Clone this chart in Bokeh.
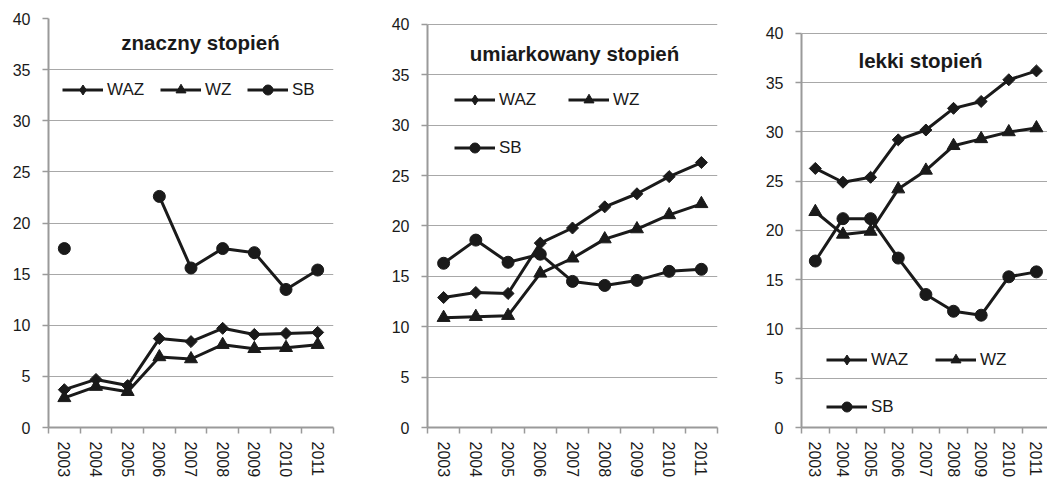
import numpy as np
from bokeh.plotting import figure
from bokeh.layouts import row
from bokeh.models import Range1d, FixedTicker, Legend, LegendItem, Label, ColumnDataSource
from bokeh.embed import file_html
from bokeh.resources import INLINE

nan = float("nan")
years = [2003, 2004, 2005, 2006, 2007, 2008, 2009, 2010, 2011]
y_ticks = [0, 5, 10, 15, 20, 25, 30, 35, 40]
titles = ["znaczny stopień", "umiarkowany  stopień", "lekki  stopień"]

waz_znaczny = [3.7, 4.7, 4.1, 8.7, 8.4, 9.7, 9.1, 9.2, 9.3]
wz_znaczny = [2.9, 4.0, 3.5, 6.9, 6.7, 8.1, 7.7, 7.8, 8.1]
sb_znaczny = [17.5, nan, nan, 22.6, 15.6, 17.5, 17.1, 13.5, 15.4]

waz_umiark = [12.9, 13.4, 13.3, 18.3, 19.8, 21.9, 23.2, 24.9, 26.3]
wz_umiark = [10.9, 11.0, 11.1, 15.3, 16.8, 18.7, 19.7, 21.1, 22.2]
sb_umiark = [16.3, 18.6, 16.4, 17.2, 14.5, 14.1, 14.6, 15.5, 15.7]

waz_lekki = [26.3, 24.9, 25.4, 29.2, 30.2, 32.4, 33.1, 35.3, 36.2]
wz_lekki = [21.9, 19.6, 19.9, 24.2, 26.1, 28.6, 29.3, 30.0, 30.4]
sb_lekki = [16.9, 21.2, 21.2, 17.2, 13.5, 11.8, 11.4, 15.3, 15.8]

FONT = "Liberation Sans"
INK = "#1a1a1a"
GRID = "#a8a8a8"
AXIS = "#9a9a9a"


def make_panel(title, waz, wz, sb, width, bl, br, bb, y_end, x_end,
               title_xy, legend_rows, x_standoff):
    p = figure(width=width, height=480, output_backend="svg", toolbar_location=None,
               title=None,
               x_range=Range1d(2002.5, x_end), y_range=Range1d(0, y_end),
               min_border_left=bl, min_border_right=br, min_border_top=18,
               min_border_bottom=bb, outline_line_color=None,
               background_fill_color="white", border_fill_color="white")
    p.xgrid.visible = False
    p.ygrid.grid_line_color = GRID
    p.ygrid.grid_line_width = 1.2
    p.ygrid.ticker = FixedTicker(ticks=y_ticks)

    p.yaxis.ticker = FixedTicker(ticks=y_ticks)
    p.yaxis.bounds = (0, 40)
    p.yaxis.axis_line_color = AXIS
    p.yaxis.axis_line_width = 2
    p.yaxis.major_tick_line_color = AXIS
    p.yaxis.major_tick_line_width = 1.5
    p.yaxis.major_tick_out = 6
    p.yaxis.major_tick_in = 0
    p.yaxis.minor_tick_line_color = None
    p.yaxis.major_label_standoff = 12
    p.yaxis.axis_label_standoff = 0
    p.yaxis.major_label_text_font = FONT
    p.yaxis.major_label_text_font_size = "16px"
    p.yaxis.major_label_text_color = INK

    bounds = [y - 0.5 for y in years] + [years[-1] + 0.5]
    p.xaxis.ticker = FixedTicker(ticks=years, minor_ticks=bounds)
    p.xaxis.axis_line_color = AXIS
    p.xaxis.axis_line_width = 2
    p.xaxis.major_tick_out = 0
    p.xaxis.major_tick_in = 0
    p.xaxis.major_tick_line_color = None
    p.xaxis.minor_tick_out = 6
    p.xaxis.minor_tick_in = 0
    p.xaxis.minor_tick_line_color = AXIS
    p.xaxis.minor_tick_line_width = 1.5
    p.xaxis.major_label_orientation = "vertical"
    p.xaxis.major_label_standoff = x_standoff
    p.xaxis.axis_label_standoff = 0
    p.xaxis.major_label_text_font = FONT
    p.xaxis.major_label_text_font_size = "16px"
    p.xaxis.major_label_text_color = INK

    src = ColumnDataSource(dict(x=np.array(years, dtype=float),
                                waz=np.array(waz, dtype=float),
                                wz=np.array(wz, dtype=float),
                                sb=np.array(sb, dtype=float)))
    dummy = ColumnDataSource(dict(x=np.array([nan]), y=np.array([nan])))
    items = []
    for col, marker, size, angle, leg_marker in [("waz", "square", 8.5, np.pi / 4, "diamond"),
                                                 ("wz", "triangle", 13, 0.0, "triangle"),
                                                 ("sb", "circle", 12, 0.0, "circle")]:
        lr = p.line("x", col, source=src, line_color=INK, line_width=3)
        p.scatter("x", col, source=src, marker=marker, size=size, angle=angle,
                  fill_color=INK, line_color=INK)
        mr = p.scatter("x", "y", source=dummy, marker=leg_marker, size=10,
                       fill_color=INK, line_color=INK)
        items.append(LegendItem(label=col.upper(), renderers=[lr, mr]))

    for idx, (lx, ly) in zip(range(3), legend_rows):
        leg = Legend(items=[items[idx]], location=(lx, ly), orientation="horizontal",
                     padding=0, margin=0, spacing=0, border_line_color=None,
                     background_fill_alpha=0, glyph_width=41, glyph_height=25,
                     label_height=25, label_standoff=4,
                     label_text_font=FONT, label_text_font_size="17px",
                     label_text_color=INK)
        p.add_layout(leg, "center")

    p.add_layout(Label(x=title_xy[0], y=title_xy[1], text=title, text_align="center",
                       text_baseline="middle", text_font=FONT,
                       text_font_size="20.5px", text_font_style="bold",
                       text_color=INK))
    return p


p1 = make_panel(titles[0], waz_znaczny, wz_znaczny, sb_znaczny,
                width=340, bl=48, br=7, bb=52, y_end=40.0, x_end=2011.5,
                title_xy=(2007.3, 37.66),
                legend_rows=[(14, 325), (112, 325), (199, 325)], x_standoff=8)
p2 = make_panel(titles[1], waz_umiark, wz_umiark, sb_umiark,
                width=385, bl=87, br=8, bb=52, y_end=40.594, x_end=2011.5,
                title_xy=(2007.15, 37.13),
                legend_rows=[(27, 315), (141, 315), (27, 267)], x_standoff=8)
p3 = make_panel(titles[2], waz_lekki, wz_lekki, sb_lekki,
                width=322, bl=76, br=0, bb=52, y_end=41.52, x_end=2011.4,
                title_xy=(2006.91, 37.29),
                legend_rows=[(25, 55), (134, 55), (25, 8)], x_standoff=8)

layout = row(p1, p2, p3, spacing=0)
open("out.html", "w").write(file_html(layout, INLINE))
